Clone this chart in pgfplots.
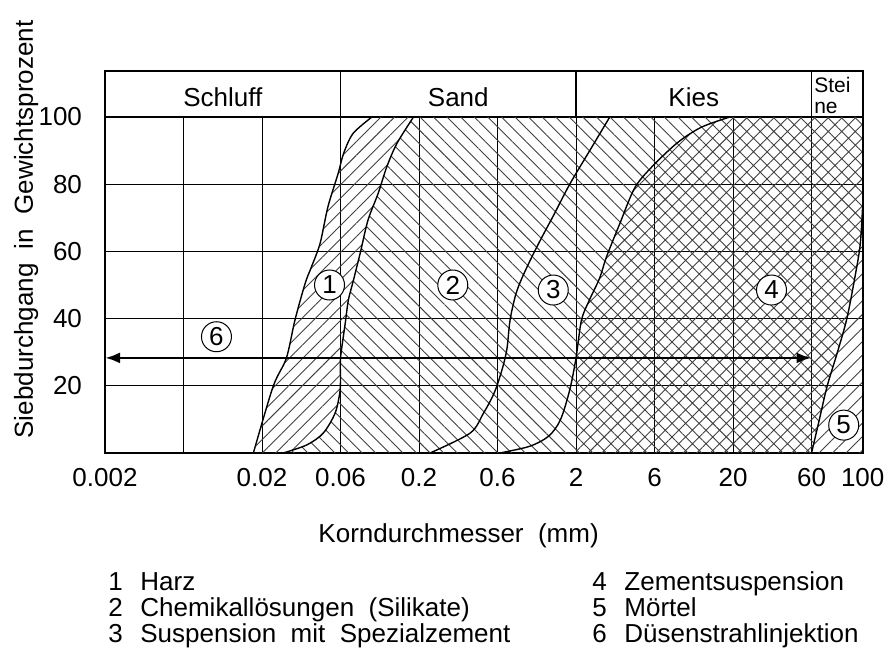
\documentclass[border=0pt]{standalone}
\usepackage{fontspec}
\setmainfont{Liberation Sans}
\usepackage{pgfplots}
\pgfplotsset{compat=1.18}
\usepgfplotslibrary{fillbetween}
\usetikzlibrary{patterns.meta,arrows.meta}
\tikzset{
  hatchR/.style={draw=none, pattern={Lines[angle=45,distance=4.8pt,line width=0.45pt]}, pattern color=black!75},
  hatchL/.style={draw=none, pattern={Lines[angle=-45,distance=4.8pt,line width=0.45pt]}, pattern color=black!75},
  hatchX/.style={draw=none, pattern={Hatch[angle=45,distance=4.8pt,line width=0.45pt]}, pattern color=black!75},
  curve/.style={black, line width=0.7pt, smooth, no marks},
  num/.style={circle, draw, fill=white, minimum size=15pt, inner sep=0pt, line width=0.5pt},
}
\begin{document}
\fontsize{13}{15}\selectfont
\begin{tikzpicture}
\path (0,0) rectangle (447pt,323.5pt);
\begin{axis}[
  at={(52.5pt,97pt)}, anchor=south west,
  scale only axis, width=378.85pt, height=168pt,
  xmin=0, xmax=9.652, ymin=0, ymax=100,
  clip mode=individual,
  xtick={0,1,...,9}, xticklabels={0.002,,0.02,0.06,0.2,0.6,2,6,20,60},
  extra x ticks={9.652}, extra x tick labels={100},
  ytick={0,20,...,100}, yticklabels={,20,40,60,80,100},
  grid=major, major grid style={black, line width=0.5pt},
  major tick length=0pt,
  axis line style={black, line width=0.8pt},
  yticklabel style={xshift=-7pt},
  xticklabel style={yshift=-3pt},
  /pgf/number format/assume math mode=true,
]
% boundary curves (x: grain size axis position, y: percent passing)
\addplot[curve, name path=A] coordinates {(1.89,0) (2.14,19.7) (2.31,28.2) (2.42,39.6) (2.55,50.5) (2.63,55.4) (2.74,62.4) (2.84,73.3) (2.97,83.2) (3.04,89.2) (3.16,95.1) (3.40,100)};
\addplot[curve, name path=B] coordinates {(2.27,0) (2.57,2.4) (2.78,5.9) (2.93,11.8) (2.99,17.8) (3.0,22) (3.0,28.2) (3.06,38.6) (3.10,45.5) (3.16,51) (3.25,59.4) (3.35,69.3) (3.48,77.3) (3.59,85.2) (3.72,92.2) (3.93,100)};
\addplot[curve, name path=C] coordinates {(4.14,0) (4.65,5.9) (4.82,11.8) (4.96,18) (5.06,25) (5.12,31) (5.16,39.6) (5.23,47) (5.31,52) (5.43,58) (5.56,64) (5.72,71) (5.92,80) (6.18,90.2) (6.43,100)};
\addplot[curve, name path=D] coordinates {(5.03,0) (5.41,2) (5.65,5) (5.80,9.8) (5.92,18.8) (6.0,28.3) (6.07,39.6) (6.18,46) (6.3,52) (6.39,58.5) (6.56,68.4) (6.75,79) (6.98,85.5) (7.3,92.5) (7.6,97) (7.96,100)};
\addplot[curve, name path=E] coordinates {(9.0,0) (9.1,10) (9.2,20) (9.33,30) (9.45,40) (9.55,52) (9.62,62) (9.652,74)};
% invisible helper boundaries
\addplot[draw=none, smooth, no marks, name path=Dp] coordinates {(6,0) (6,14) (6,28.3) (6.07,39.6) (6.18,46) (6.3,52) (6.39,58.5) (6.56,68.4) (6.75,79) (6.98,85.5) (7.3,92.5) (7.6,97) (7.96,100)};
\addplot[draw=none, no marks, name path=Eext] coordinates {(9.0,0) (9.1,10) (9.2,20) (9.33,30) (9.45,40) (9.55,52) (9.62,62) (9.652,74) (9.652,100)};
\addplot[draw=none, no marks, name path=R] coordinates {(9.652,0) (9.652,74)};
% hatched areas
\addplot[hatchR] fill between[of=A and B];
\addplot[hatchL] fill between[of=B and Dp];
\addplot[hatchX] fill between[of=Dp and Eext];
\addplot[hatchR] fill between[of=E and R];
% Duesenstrahlinjektion range
\addplot[black, line width=1.4pt, no marks, {Latex[length=7.5pt,width=5.5pt]}-{Latex[length=7.5pt,width=5.5pt]}] coordinates {(0,28.3) (9,28.3)};
% circled numbers
\node[num] at (axis cs:2.86,50) {1};
\node[num] at (axis cs:4.43,50) {2};
\node[num] at (axis cs:5.71,48.5) {3};
\node[num] at (axis cs:8.49,48.5) {4};
\node[num] at (axis cs:9.41,8.3) {5};
\node[num] at (axis cs:1.42,34.6) {6};
% header
\draw[line width=0.8pt] (axis cs:0,100) -- (axis cs:0,113.69) -- (axis cs:9.652,113.69) -- (axis cs:9.652,100);
\draw[line width=0.6pt] (axis cs:3,100) -- (axis cs:3,113.69);
\draw[line width=0.6pt] (axis cs:6,100) -- (axis cs:6,113.69);
\draw[line width=0.6pt] (axis cs:9,100) -- (axis cs:9,113.69);
\node[anchor=base] at (axis cs:1.5,103) {Schluff};
\node[anchor=base] at (axis cs:4.5,103) {Sand};
\node[anchor=base] at (axis cs:7.5,103) {Kies};
\node[anchor=base west, inner sep=0pt, font=\fontsize{10.5}{11}\selectfont] at (axis cs:9.03,107.3) {Stei};
\node[anchor=base west, inner sep=0pt, font=\fontsize{10.5}{11}\selectfont] at (axis cs:9.03,100.9) {ne};
\end{axis}
\node[rotate=90, anchor=base] at (16.5pt,208.75pt) {Siebdurchgang\ \ in\ \ Gewichtsprozent};
\node[anchor=base] at (229.3pt,52.5pt) {Korndurchmesser\ \ (mm)};
\node[anchor=base west, inner sep=0pt] at (54pt,28.5pt) {1};
\node[anchor=base west, inner sep=0pt] at (70pt,28.5pt) {Harz};
\node[anchor=base west, inner sep=0pt] at (54pt,15.25pt) {2};
\node[anchor=base west, inner sep=0pt] at (70pt,15.25pt) {Chemikallösungen\ \ (Silikate)};
\node[anchor=base west, inner sep=0pt] at (54pt,2.5pt) {3};
\node[anchor=base west, inner sep=0pt] at (70pt,2.5pt) {Suspension\ \ mit\ \ Spezialzement};
\node[anchor=base west, inner sep=0pt] at (296pt,28.5pt) {4};
\node[anchor=base west, inner sep=0pt] at (312pt,28.5pt) {Zementsuspension};
\node[anchor=base west, inner sep=0pt] at (296pt,15.25pt) {5};
\node[anchor=base west, inner sep=0pt] at (312pt,15.25pt) {Mörtel};
\node[anchor=base west, inner sep=0pt] at (296pt,2.5pt) {6};
\node[anchor=base west, inner sep=0pt] at (312pt,2.5pt) {Düsenstrahlinjektion};
\end{tikzpicture}
\end{document}
